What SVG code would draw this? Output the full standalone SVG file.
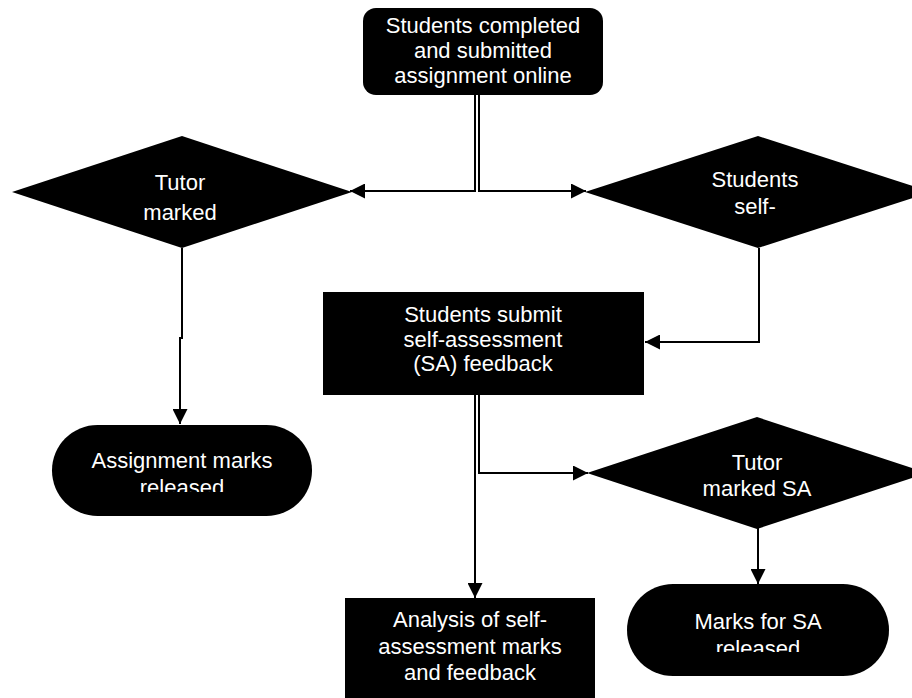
<svg xmlns="http://www.w3.org/2000/svg" width="912" height="698" viewBox="0 0 912 698">
<style>
.n{fill:#000}
.t{fill:#fff;font-family:"Liberation Sans",Arial,sans-serif;font-size:22px;text-anchor:middle}
.c{fill:none;stroke:#000;stroke-width:2}
</style>
<defs>
<marker id="ah" viewBox="0 0 15 15" refX="15" refY="7.5" markerWidth="15" markerHeight="15" markerUnits="userSpaceOnUse" orient="auto">
<path d="M0 0L15 7.5L0 15Z" fill="#000"/>
</marker>
<clipPath id="clipA"><rect x="40" y="420" width="290" height="72"/></clipPath>
<clipPath id="clipM"><rect x="620" y="580" width="292" height="72"/></clipPath>
</defs>
<rect width="912" height="698" fill="#fff"/>
<g id="connectors">
<path class="c" d="M475 95V191H350" marker-end="url(#ah)"/>
<path class="c" d="M479 95V191H586" marker-end="url(#ah)"/>
<path class="c" d="M182 248V338H180V424" marker-end="url(#ah)"/>
<path class="c" d="M759 248V342H645" marker-end="url(#ah)"/>
<path class="c" d="M479 395V473H588" marker-end="url(#ah)"/>
<path class="c" d="M475 395V598" marker-end="url(#ah)"/>
<path class="c" d="M758 528V584" marker-end="url(#ah)"/>
</g>
<g id="start">
<rect class="n" x="363" y="8" width="240" height="87" rx="13"/>
<text class="t" x="483" y="33">Students completed</text>
<text class="t" x="483" y="58">and submitted</text>
<text class="t" x="483" y="83">assignment online</text>
</g>
<g id="tutor-marked">
<path class="n" d="M12 192L182 136L352 192L182 248Z"/>
<text class="t" x="180" y="190">Tutor</text>
<text class="t" x="180" y="220">marked</text>
</g>
<g id="students-self">
<path class="n" d="M585 192L758 136L931 192L758 248Z"/>
<text class="t" x="755" y="187">Students</text>
<text class="t" x="755" y="214">self-</text>
</g>
<g id="submit-sa">
<rect class="n" x="323" y="292" width="321" height="103"/>
<text class="t" x="483" y="322">Students submit</text>
<text class="t" x="483" y="347">self-assessment</text>
<text class="t" x="483" y="371">(SA) feedback</text>
</g>
<g id="assignment-released">
<rect class="n" x="52" y="425" width="260" height="91" rx="45.5"/>
<text class="t" x="182" y="468">Assignment marks</text>
<text class="t" x="182" y="495" clip-path="url(#clipA)">released</text>
</g>
<g id="tutor-marked-sa">
<path class="n" d="M587 473L757 417L927 473L757 529Z"/>
<text class="t" x="757" y="470">Tutor</text>
<text class="t" x="757" y="496">marked SA</text>
</g>
<g id="analysis">
<rect class="n" x="345" y="598" width="250" height="110"/>
<text class="t" x="470" y="627">Analysis of self-</text>
<text class="t" x="470" y="654">assessment marks</text>
<text class="t" x="470" y="680">and feedback</text>
</g>
<g id="sa-released">
<rect class="n" x="627" y="584" width="262" height="92" rx="46"/>
<text class="t" x="758" y="629">Marks for SA</text>
<text class="t" x="758" y="656" clip-path="url(#clipM)">released</text>
</g>
</svg>
